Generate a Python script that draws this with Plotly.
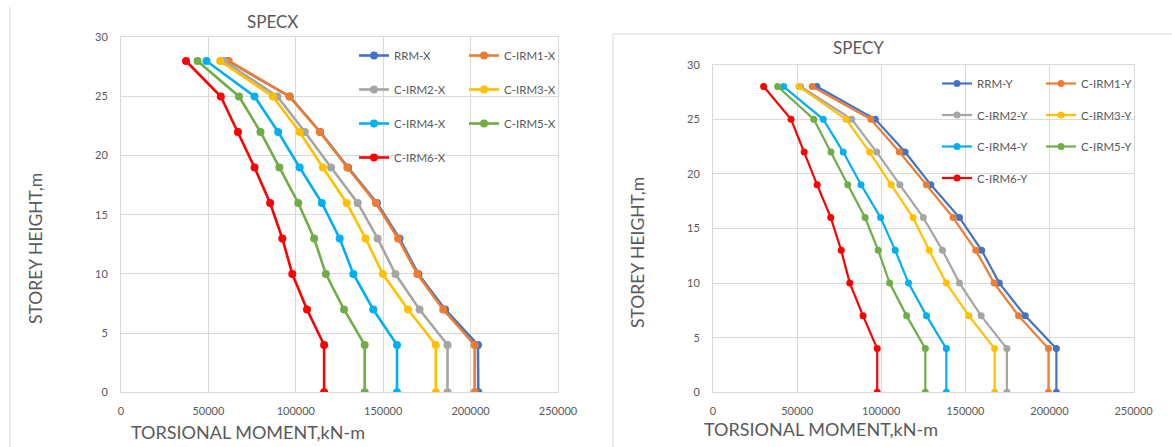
import plotly.graph_objects as go

# Storey heights (m) shared by both load cases
heights = [0, 4, 7, 10, 13, 16, 19, 22, 25, 28]

# SPECX torsional moments (kN-m), listed bottom storey to top
rrm_x = [204400, 204200, 185400, 170100, 159300, 146400, 129900, 114000, 96500, 61200]
irm1_x = [202300, 202300, 184300, 169500, 158500, 145800, 129500, 113800, 96300, 61600]
irm2_x = [186800, 186800, 170800, 157000, 146800, 135400, 120200, 105200, 89500, 59000]
irm3_x = [180100, 180100, 164200, 149800, 139900, 129100, 115500, 102200, 86800, 56700]
irm4_x = [157900, 157900, 144300, 132900, 125100, 114900, 102200, 89900, 76400, 48900]
irm5_x = [139400, 139400, 127600, 117200, 110500, 101400, 90600, 79800, 67500, 43800]
irm6_x = [116200, 116200, 106400, 98000, 92300, 85300, 76400, 66900, 57100, 37200]

# SPECY torsional moments (kN-m)
rrm_y = [204100, 204100, 185600, 170200, 159700, 146500, 129500, 114200, 96500, 61700]
irm1_y = [199400, 199400, 181600, 167100, 156200, 142700, 126800, 110800, 93800, 59000]
irm2_y = [174700, 174700, 159400, 146500, 136400, 125000, 111100, 97300, 82500, 52000]
irm3_y = [167400, 167400, 152100, 138700, 128500, 118900, 105900, 93100, 79100, 51100]
irm4_y = [138700, 138700, 126900, 116200, 108300, 99600, 88000, 77400, 65500, 42000]
irm5_y = [126200, 126200, 115100, 105000, 98200, 90400, 80100, 70100, 59900, 38400]
irm6_y = [97600, 97600, 89200, 81300, 76200, 70000, 61900, 54200, 46400, 30100]

names_x = ["RRM-X", "C-IRM1-X", "C-IRM2-X", "C-IRM3-X", "C-IRM4-X", "C-IRM5-X", "C-IRM6-X"]
names_y = ["RRM-Y", "C-IRM1-Y", "C-IRM2-Y", "C-IRM3-Y", "C-IRM4-Y", "C-IRM5-Y", "C-IRM6-Y"]
colors = ["#4472C4", "#ED7D31", "#A5A5A5", "#FFC000", "#00B0F0", "#70AD47", "#FF0000"]

W, H = 1172, 447
FONT = "Lato, Carlito, sans-serif"
TXT = "#595959"
GRID = "#D9D9D9"


def px(x):
    return x / W


def py(y):
    return 1 - y / H


fig = go.Figure()

series_x = [rrm_x, irm1_x, irm2_x, irm3_x, irm4_x, irm5_x, irm6_x]
series_y = [rrm_y, irm1_y, irm2_y, irm3_y, irm4_y, irm5_y, irm6_y]

# two-column legends: even-indexed series in the first column, odd in the second
for i, (name, vals) in enumerate(zip(names_x, series_x)):
    fig.add_trace(go.Scatter(
        x=vals, y=heights, name=name, mode="lines+markers",
        line=dict(color=colors[i], width=2.6),
        marker=dict(color=colors[i], size=8),
        xaxis="x", yaxis="y",
        legend="legend" if i % 2 == 0 else "legend2",
        legendgroup=name,
    ))

for i, (name, vals) in enumerate(zip(names_y, series_y)):
    fig.add_trace(go.Scatter(
        x=vals, y=heights, name=name, mode="lines+markers",
        line=dict(color=colors[i], width=2.2),
        marker=dict(color=colors[i], size=7),
        xaxis="x2", yaxis="y2",
        legend="legend3" if i % 2 == 0 else "legend4",
        legendgroup=name,
    ))

axis_common = dict(
    showgrid=True, gridcolor=GRID, gridwidth=1,
    zeroline=False, showline=True, mirror=True, linecolor=GRID, linewidth=1,
    ticks="", tickfont=dict(family=FONT, size=11, color=TXT),
    automargin=False, fixedrange=True,
)

xdom1 = [px(121), px(558)]
xdom2 = [px(713), px(1133.6)]
ydom1 = [py(392.3), py(37.3)]
ydom2 = [py(392.3), py(64.7)]

fig.update_layout(
    width=W, height=H,
    margin=dict(l=0, r=0, t=0, b=0),
    paper_bgcolor="white", plot_bgcolor="white",
    font=dict(family=FONT, color=TXT),
    xaxis=dict(domain=xdom1, anchor="y", range=[0, 250000], dtick=50000,
               tickformat="d", ticklabelstandoff=8, **axis_common),
    yaxis=dict(domain=ydom1, anchor="x", range=[0, 30], dtick=5,
               ticklabelstandoff=10, **axis_common),
    xaxis2=dict(domain=xdom2, anchor="y2", range=[0, 250000], dtick=50000,
                tickformat="d", ticklabelstandoff=8, **axis_common),
    yaxis2=dict(domain=ydom2, anchor="x2", range=[0, 30], dtick=5,
                ticklabelstandoff=10, **axis_common),
    showlegend=True,
)

leg_common = dict(
    xanchor="left", yanchor="top", bgcolor="rgba(0,0,0,0)", borderwidth=0,
    font=dict(family=FONT, size=11.5, color=TXT), itemwidth=30,
    orientation="v", itemclick=False, itemdoubleclick=False,
)
fig.update_layout(
    legend=dict(x=px(354), y=py(41), tracegroupgap=15, **leg_common),
    legend2=dict(x=px(464), y=py(41), tracegroupgap=15, **leg_common),
    legend3=dict(x=px(937), y=py(69), tracegroupgap=12.5, **leg_common),
    legend4=dict(x=px(1041), y=py(69), tracegroupgap=12.5, **leg_common),
)

# chart-area borders
fig.add_shape(type="line", xref="paper", yref="paper",
              x0=px(10), x1=px(10), y0=py(7), y1=0,
              line=dict(color=GRID, width=1))
fig.add_shape(type="rect", xref="paper", yref="paper",
              x0=px(613), x1=px(1180), y0=-0.05, y1=py(34),
              line=dict(color=GRID, width=1))

ann = [
    dict(text="SPECX", x=px(272), y=py(22), size=17),
    dict(text="SPECY", x=px(858), y=py(48), size=17),
    dict(text="TORSIONAL MOMENT,kN-m", x=px(248), y=py(432), size=18),
    dict(text="TORSIONAL MOMENT,kN-m", x=px(821), y=py(429), size=18),
]
for a in ann:
    fig.add_annotation(text=a["text"], x=a["x"], y=a["y"], xref="paper", yref="paper",
                       showarrow=False, xanchor="center", yanchor="middle",
                       font=dict(family=FONT, size=a["size"], color=TXT))

for xx, yy in [(35, 249), (637, 253)]:
    fig.add_annotation(text="STOREY HEIGHT,m", x=px(xx), y=py(yy), xref="paper", yref="paper",
                       showarrow=False, textangle=-90, xanchor="center", yanchor="middle",
                       font=dict(family=FONT, size=17.5, color=TXT))

fig.write_html("out.html")
